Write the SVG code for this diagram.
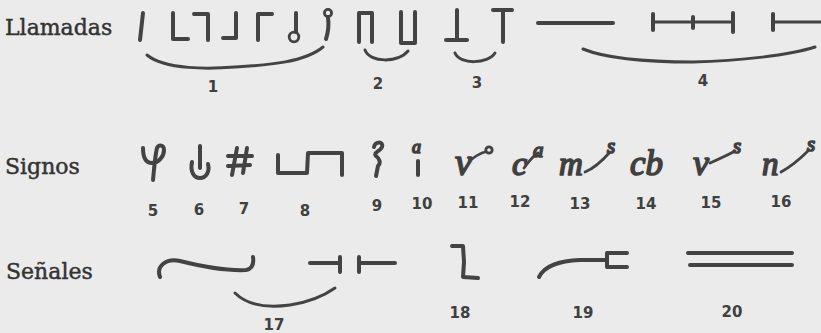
<svg xmlns="http://www.w3.org/2000/svg" width="821" height="333" viewBox="0 0 821 333">
<style>
.bg{fill:#ebebeb}
.lbl{font-family:"DejaVu Serif","Liberation Serif",serif;font-size:22px;fill:#333;stroke:#333;stroke-width:0.45}
.num{font-family:"DejaVu Sans","Liberation Sans",sans-serif;font-weight:bold;font-size:15px;fill:#404040;text-anchor:middle}
.ink{fill:none;stroke:#434343;stroke-width:4;stroke-linecap:round;stroke-linejoin:round}
.thin{fill:none;stroke:#434343;stroke-width:2.8;stroke-linecap:round;stroke-linejoin:round}
.brace{fill:none;stroke:#434343;stroke-width:3;stroke-linecap:round}
.cur{font-family:"Liberation Serif","DejaVu Serif",serif;font-style:italic;fill:#404040;stroke:#404040;stroke-width:1.6;stroke-linejoin:round}
</style>
<rect class="bg" x="0" y="0" width="821" height="333"/>
<g id="row-labels">
<text class="lbl" x="5" y="35">Llamadas</text>
<text class="lbl" x="5" y="174">Signos</text>
<text class="lbl" x="6" y="279">Señales</text>
</g>
<g id="llamadas-1">
<path class="ink" d="M143,13 L140,40"/>
<path class="ink" d="M173,13 L173,39 L188,39"/>
<path class="ink" d="M194,14 L208,14 L208,40"/>
<path class="ink" d="M236,13 L236,38 L223,38"/>
<path class="ink" d="M258,40 L258,14 L272,14"/>
<path class="ink" d="M296,13 L296,32"/>
<circle class="thin" cx="294" cy="37" r="4.8"/>
<circle class="thin" cx="328" cy="13" r="3.6"/>
<path class="ink" d="M328,17 C329,25 328,33 326,39"/>
<path class="brace" d="M147,55 C165,70 210,69 235,67 C270,65 305,62 323,47"/>
<text class="num" x="213" y="92">1</text>
</g>
<g id="llamadas-2">
<path class="ink" d="M359,42 L359,13 L372,13 L372,42"/>
<path class="ink" d="M401,12 L401,43 L415,43 L415,12"/>
<path class="brace" d="M365,50 C370,63 398,63 408,51"/>
<text class="num" x="378" y="89">2</text>
</g>
<g id="llamadas-3">
<path class="ink" d="M457,10 L457,40 M446,40 L467,40"/>
<path class="ink" d="M493,10 L512,10 M503,10 L503,42"/>
<path class="brace" d="M455,53 C460,65 488,64 495,53"/>
<text class="num" x="477" y="88">3</text>
</g>
<g id="llamadas-4">
<path class="ink" d="M538,23 L613,23"/>
<path class="thin" d="M653,22 L733,22"/>
<path class="ink" d="M653,14 L653,30 M693,17 L693,28 M733,13 L733,32"/>
<path class="thin" d="M773,22 L821,22"/>
<path class="ink" d="M773,14 L773,30"/>
<path class="brace" d="M583,49 C610,60 660,62 693,62 C740,61 790,55 815,47"/>
<text class="num" x="703" y="86">4</text>
</g>
<g id="signo-5">
<path class="ink" d="M143,148 C143,158 146,163 152,163 C158,163 164,157 164,150 C164,145 159,144 157,148 C155,156 154,170 153,180"/>
<text class="num" x="153" y="216">5</text>
</g>
<g id="signo-6">
<path class="ink" d="M200,146 L200,168"/>
<path class="ink" d="M192,162 C190,172 194,178 200,178 C206,178 210,172 208,164"/>
<text class="num" x="199" y="215">6</text>
</g>
<g id="signo-7">
<path class="ink" d="M237,148 L232,175 M247,148 L243,173 M228,156 L252,156 M228,166 L250,165"/>
<text class="num" x="244" y="214">7</text>
</g>
<g id="signo-8">
<path class="ink" d="M278,155 L278,173 L307,173 L308,153 L342,153 L342,175"/>
<text class="num" x="305" y="216">8</text>
</g>
<g id="signo-9">
<path class="ink" d="M374,147 C375,141 384,141 382,147 C380,152 373,152 376,156 C380,159 381,163 378,166 L376,176"/>
<text class="num" x="377" y="211">9</text>
</g>
<g id="signo-10">
<text class="cur" x="412" y="153" font-size="18" font-style="normal">a</text>
<path class="ink" d="M418,161 L418,175"/>
<text class="num" x="422" y="209">10</text>
</g>
<g id="signo-11">
<text class="cur" x="455" y="175" font-size="38">v</text>
<path class="thin" d="M472,159 C477,155 481,153 485,152"/>
<circle class="thin" cx="489" cy="150" r="3.2"/>
<text class="num" x="468" y="208">11</text>
</g>
<g id="signo-12">
<text class="cur" x="512" y="175" font-size="34">c</text>
<path class="thin" d="M524,168 C529,161 533,156 538,153"/>
<text class="cur" x="533" y="157" font-size="21">a</text>
<text class="num" x="520" y="207">12</text>
</g>
<g id="signo-13">
<text class="cur" x="559" y="175" font-size="33">m</text>
<path class="thin" d="M585,172 C595,168 603,160 610,152"/>
<text class="cur" x="607" y="153" font-size="21">s</text>
<text class="num" x="580" y="209">13</text>
</g>
<g id="signo-14">
<text class="cur" x="630" y="175" font-size="35">cb</text>
<text class="num" x="646" y="209">14</text>
</g>
<g id="signo-15">
<text class="cur" x="693" y="175" font-size="36">v</text>
<path class="thin" d="M710,163 C719,159 728,155 735,151"/>
<text class="cur" x="733" y="153" font-size="21">s</text>
<text class="num" x="711" y="208">15</text>
</g>
<g id="signo-16">
<text class="cur" x="762" y="175" font-size="33">n</text>
<path class="thin" d="M781,172 C792,166 801,158 809,150"/>
<text class="cur" x="807" y="151" font-size="21">s</text>
<text class="num" x="781" y="207">16</text>
</g>
<g id="senal-17">
<path class="ink" d="M160,277 C156,266 166,258 180,261 C200,266 225,271 246,270 C252,269 254,264 253,257"/>
<path class="ink" d="M310,263 L340,263 M340,257 L340,272"/>
<path class="ink" d="M359,257 L359,272 M359,263 L395,263"/>
<path class="brace" d="M235,293 C250,308 275,307 290,305 C310,302 325,295 335,288"/>
<text class="num" x="274" y="330">17</text>
</g>
<g id="senal-18">
<path class="ink" d="M452,246 L463,246 L464,262 L463,277 L478,278"/>
<text class="num" x="460" y="318">18</text>
</g>
<g id="senal-19">
<path class="ink" d="M539,277 C545,265 560,261 580,260 L607,260"/>
<path class="ink" d="M627,253 L607,253 L607,267 L627,267"/>
<text class="num" x="583" y="318">19</text>
</g>
<g id="senal-20">
<path class="ink" d="M688,253 L792,253 M690,265 L792,265"/>
<text class="num" x="732" y="317">20</text>
</g>
<g id="connectors"></g>
</svg>
